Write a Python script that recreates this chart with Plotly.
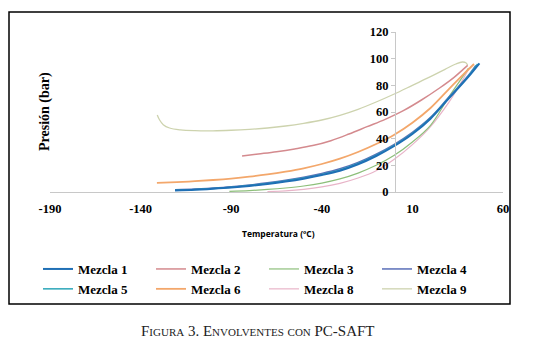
import plotly.graph_objects as go

# ---- data ----
names = ["Mezcla 1", "Mezcla 2", "Mezcla 3", "Mezcla 4", "Mezcla 5", "Mezcla 6", "Mezcla 8", "Mezcla 9"]

t1 = [-121, -110, -100, -90, -80, -70, -60, -50, -40, -30, -20, -10, 0, 10, 20, 30, 40, 47]
p1 = [1.2, 1.7, 2.4, 3.3, 4.5, 6.0, 7.8, 10.0, 12.7, 16.0, 20.8, 27.0, 34.5, 43.5, 55.0, 70.0, 85.0, 96.5]

t2 = [-84, -75, -65, -55, -45, -35, -25, -15, -5, 5, 15, 25, 33, 38, 40.5]
p2 = [27.0, 28.5, 30.2, 32.3, 34.8, 38.5, 43.5, 49.0, 54.5, 61.0, 69.0, 78.0, 86.0, 92.0, 95.0]

t3 = [-91, -80, -70, -60, -50, -40, -30, -20, -10, 0, 10, 20, 30, 36, 41]
p3 = [0.5, 1.1, 1.9, 3.0, 4.5, 6.7, 9.8, 14.2, 20.0, 27.5, 37.5, 50.0, 71.0, 83.0, 93.0]

t4 = [-121, -110, -100, -90, -80, -70, -60, -50, -40, -30, -20, -10, 0, 10, 20, 30, 40, 45]
p4 = [1.6, 2.2, 3.0, 4.0, 5.3, 6.9, 8.8, 11.1, 13.9, 17.4, 22.2, 28.4, 35.8, 44.8, 56.0, 71.0, 86.0, 95.0]

t5 = [-121, -110, -100, -90, -80, -70, -60, -50, -40, -30, -20, -10, 0, 10, 20, 30, 40, 46]
p5 = [1.4, 1.9, 2.6, 3.6, 4.8, 6.4, 8.3, 10.5, 13.2, 16.6, 21.4, 27.6, 35.0, 44.0, 55.5, 70.5, 85.5, 96.0]

t6 = [-131, -120, -110, -100, -90, -80, -70, -60, -50, -40, -30, -20, -10, 0, 10, 20, 30, 38, 44]
p6 = [6.8, 7.4, 8.1, 9.0, 10.1, 11.5, 13.2, 15.3, 17.8, 21.0, 25.0, 30.0, 36.0, 43.0, 52.0, 63.0, 77.0, 88.0, 96.0]

t8 = [-70, -60, -50, -40, -30, -20, -10, 0, 10, 20, 30, 36, 41]
p8 = [0.3, 0.9, 2.0, 3.8, 6.5, 10.5, 16.0, 24.5, 35.5, 49.0, 67.0, 80.0, 92.0]

t9 = [-130.8, -129.5, -127.5, -124, -118, -110, -100, -90, -80, -70, -60, -50, -40, -30, -20, -10, 0, 10, 20, 28, 34, 37.5, 39.5, 40.5]
p9 = [57.8, 54.0, 50.5, 48.0, 46.6, 46.0, 45.9, 46.3, 47.0, 48.0, 49.5, 51.5, 54.0, 57.5, 62.0, 67.5, 73.5, 80.0, 86.5, 92.0, 96.0, 97.5, 97.0, 95.0]

x_ticks = [-190, -140, -90, -40, 10, 60]
x_tick_text = ["-190", "-140", "-90", "-40", "10", "60"]
y_ticks = [0, 20, 40, 60, 80, 100, 120]

colors = ["#1F6FB5", "#D48A8E", "#8DBF7A", "#5A6FB8", "#2BA5B8", "#F3A76B", "#E8B4C8", "#CDD3AE"]
widths = [2, 1.5, 1.2, 1.5, 1.5, 1.8, 1.2, 1.3]

series = [(t1, p1), (t2, p2), (t3, p3), (t4, p4), (t5, p5), (t6, p6), (t8, p8), (t9, p9)]

fig = go.Figure()
order = [7, 6, 2, 1, 5, 3, 4, 0]
traces = {}
for i in range(len(names)):
    t, p = series[i]
    traces[i] = go.Scatter(x=t, y=p, mode="lines", name=names[i],
                           line=dict(color=colors[i], width=widths[i], shape="spline", smoothing=1.0),
                           legendrank=i + 1)
for i in order:
    fig.add_trace(traces[i])

W, H = 542, 345
L, R, T, B = 50, 39, 32, 153
pw = W - L - R
ph = H - T - B

serif = "Liberation Serif"
axis_grey = "#C8C8C8"
fig.update_layout(
    width=W, height=H,
    margin=dict(l=L, r=R, t=T, b=B),
    paper_bgcolor="white", plot_bgcolor="white",
    xaxis=dict(range=[-190, 60], tickvals=x_ticks, ticktext=x_tick_text,
               showgrid=False, zeroline=False,
               showline=True, linecolor=axis_grey, linewidth=1,
               ticks="", ticklabelstandoff=5,
               tickfont=dict(family=serif, size=12.5, color="black", weight="bold")),
    yaxis=dict(range=[0, 120], tickvals=y_ticks, showgrid=False, zeroline=False,
               anchor="free", position=(395 - L) / pw,
               showline=True, linecolor=axis_grey, linewidth=1,
               ticks="outside", ticklen=4, tickcolor=axis_grey,
               tickfont=dict(family=serif, size=12.5, color="black", weight="bold")),
    showlegend=True,
    legend=dict(orientation="h", x=(38 - L) / pw, xanchor="left",
                y=(192 - 254) / ph, yanchor="top",
                entrywidth=68, entrywidthmode="pixels", itemwidth=30,
                traceorder="normal", tracegroupgap=0,
                font=dict(family=serif, size=13, color="black", weight="bold"),
                bgcolor="rgba(0,0,0,0)"),
    shapes=[dict(type="rect", xref="paper", yref="paper",
                 x0=(9 - L) / pw, x1=(510 - L) / pw,
                 y0=(192 - 304) / ph, y1=(192 - 12) / ph,
                 line=dict(color="black", width=1.5), fillcolor="rgba(0,0,0,0)", layer="below")],
    annotations=[
        dict(text="Presión (bar)", xref="paper", yref="paper",
             x=(45 - L) / pw, y=(192 - 112) / ph, textangle=-90, showarrow=False,
             xanchor="center", yanchor="middle",
             font=dict(family=serif, size=14, color="black", weight="bold")),
        dict(text="Temperatura (ºC)", xref="paper", yref="paper",
             x=(278 - L) / pw, y=(192 - 233) / ph, showarrow=False,
             xanchor="center", yanchor="middle",
             font=dict(family="Open Sans", size=8.5, color="black", weight="bold")),
        dict(text="Figura 3. Envolventes con PC-SAFT", xref="paper", yref="paper",
             x=(258 - L) / pw, y=(192 - 331) / ph, showarrow=False,
             xanchor="center", yanchor="middle",
             font=dict(family=serif, size=15, color="#222222", variant="small-caps")),
    ],
)

fig.write_html("out.html", config={"displayModeBar": False},
               post_script="document.body.style.margin='0';")
